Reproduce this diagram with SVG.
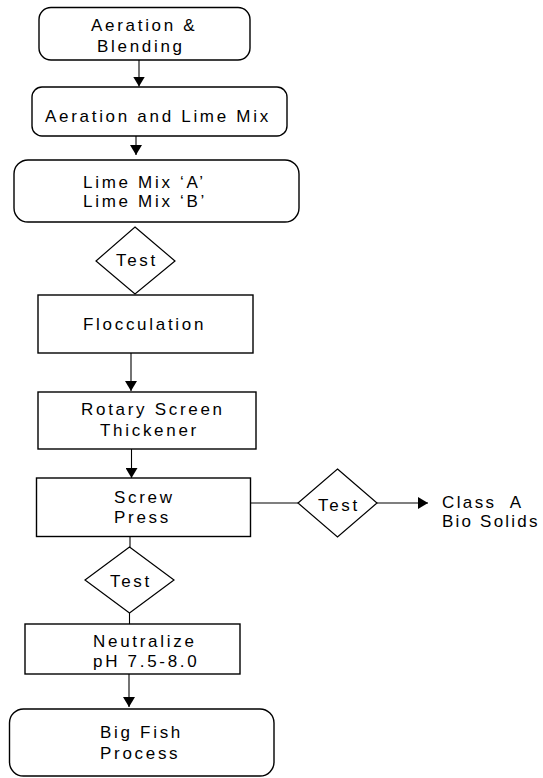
<svg xmlns="http://www.w3.org/2000/svg" width="543" height="778" viewBox="0 0 543 778">
<style>
.box{fill:#fff;stroke:#000;stroke-width:1.4}
.dia{fill:#fff;stroke:#000;stroke-width:1.2}
.con{fill:none;stroke:#000;stroke-width:1.1}
text{font-family:"Liberation Sans",Arial,sans-serif;font-size:17px;letter-spacing:2.7px;fill:#000}
</style>
<defs>
<marker id="arr" markerUnits="userSpaceOnUse" markerWidth="10" markerHeight="12" refX="10" refY="6" orient="auto">
<path d="M0,0 L10,6 L0,12 z" fill="#000"/>
</marker>
</defs>
<rect width="543" height="778" fill="#fff"/>
<g id="connectors">
<line class="con" x1="139" y1="60" x2="139" y2="86.5" marker-end="url(#arr)"/>
<line class="con" x1="136" y1="136" x2="136" y2="155" marker-end="url(#arr)"/>
<line class="con" x1="131" y1="353" x2="131" y2="391" marker-end="url(#arr)"/>
<line class="con" x1="131.5" y1="449" x2="131.5" y2="478" marker-end="url(#arr)"/>
<line class="con" x1="248" y1="503" x2="298" y2="503"/>
<line class="con" x1="377" y1="503" x2="428" y2="503" marker-end="url(#arr)"/>
<line class="con" x1="130" y1="537" x2="130" y2="547"/>
<line class="con" x1="129.5" y1="613" x2="129.5" y2="624"/>
<line class="con" x1="129" y1="674" x2="129" y2="707" marker-end="url(#arr)"/>
</g>
<g id="aeration-blending">
<rect class="box" x="39" y="7.5" width="211" height="52.5" rx="12"/>
<text x="91" y="31">Aeration &amp;</text>
<text x="97" y="52">Blending</text>
</g>
<g id="aeration-lime">
<rect class="box" x="32" y="87" width="255" height="49" rx="10"/>
<text x="45" y="122">Aeration and Lime Mix</text>
</g>
<g id="lime-mix">
<rect class="box" x="14" y="160" width="285" height="62" rx="14"/>
<text x="83" y="188">Lime Mix ‘A’</text>
<text x="83" y="207">Lime Mix ‘B’</text>
</g>
<g id="test1">
<polygon class="dia" points="135,227 175,261 135,294 96,261"/>
<text x="116" y="266">Test</text>
</g>
<g id="flocculation">
<rect class="box" x="38" y="295" width="215" height="58"/>
<text x="83" y="330">Flocculation</text>
</g>
<g id="rotary">
<rect class="box" x="38" y="392" width="218" height="57"/>
<text x="81" y="415">Rotary Screen</text>
<text x="100" y="436">Thickener</text>
</g>
<g id="screw-press">
<rect class="box" x="36.5" y="478" width="214" height="58.5"/>
<text x="114" y="503">Screw</text>
<text x="114" y="523">Press</text>
</g>
<g id="test2">
<polygon class="dia" points="337.5,469 377,503 337.5,537 298,503"/>
<text x="318" y="511">Test</text>
</g>
<g id="class-a">
<text x="442" y="508" style="letter-spacing:2.4px">Class&#160; A</text>
<text x="442" y="527" style="letter-spacing:2.2px">Bio Solids</text>
</g>
<g id="test3">
<polygon class="dia" points="129.5,547 174,580 129.5,613 85,580"/>
<text x="110" y="587">Test</text>
</g>
<g id="neutralize">
<rect class="box" x="25" y="624" width="215" height="50"/>
<text x="93" y="647">Neutralize</text>
<text x="93" y="667">pH 7.5-8.0</text>
</g>
<g id="big-fish">
<rect class="box" x="9.5" y="709" width="264.5" height="67" rx="14"/>
<text x="100" y="738">Big Fish</text>
<text x="100" y="759">Process</text>
</g>
</svg>
